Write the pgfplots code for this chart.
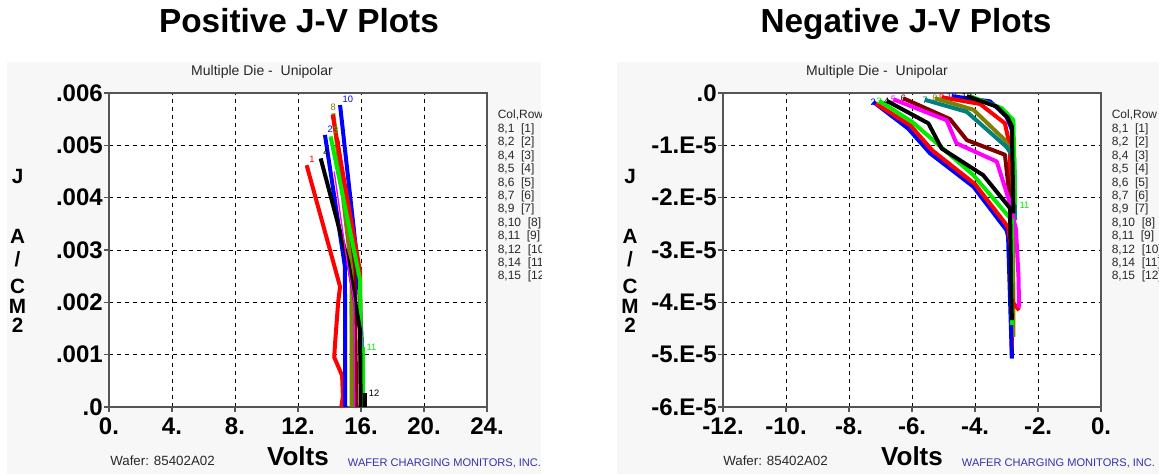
\documentclass[border=0pt]{standalone}
\usepackage{fontspec}
\setmainfont{Liberation Sans}
\usepackage{pgfplots}
\pgfplotsset{compat=1.18}

\definecolor{cRed}{RGB}{255,0,0}
\definecolor{cBlue}{RGB}{0,0,255}
\definecolor{cGreen}{RGB}{0,235,0}
\definecolor{cBlack}{RGB}{0,0,0}
\definecolor{cMag}{RGB}{255,0,255}
\definecolor{cBrown}{RGB}{128,0,0}
\definecolor{cTeal}{RGB}{0,128,128}
\definecolor{cOlive}{RGB}{128,128,0}
\definecolor{panel}{RGB}{247,247,247}
\definecolor{wcm}{RGB}{51,51,170}
\definecolor{axgray}{RGB}{85,85,85}
\definecolor{legtxt}{RGB}{40,40,40}

\newcommand{\lblfont}{\fontsize{7}{7}\selectfont}

\pgfplotsset{
  jv/.style={
    scale only axis, width=283.5pt, height=235.5pt,
    anchor=south west,
    axis background/.style={fill=white},
    axis line style={axgray, line width=0.9pt},
    grid=major,
    major grid style={black, line width=0.7pt, dash pattern=on 3pt off 3pt},
    tick pos=left, tick align=outside, major tick length=3.5pt,
    tick style={axgray, line width=0.8pt},
    tick label style={font=\fontsize{18}{18}\selectfont\bfseries},
    xticklabel style={inner sep=0pt, yshift=-4.5pt},
    yticklabel style={inner sep=0pt, xshift=-1pt},
    scaled ticks=false,
    every axis plot/.append style={line width=3pt, line join=round},
  }
}

\begin{document}
\begin{tikzpicture}
\path[use as bounding box] (0,0) rectangle (869.25pt,-355.5pt);
\begin{scope}[x=0.75pt,y=-0.75pt]
  \fill[panel] (7,62) rectangle (541,474);
  \fill[panel] (617,62) rectangle (1159,474);
\end{scope}

% ---------------- Positive J-V ----------------
\begin{axis}[jv, at={(81.75pt,-305.25pt)},
  xmin=0, xmax=24, ymin=0, ymax=0.006,
  xtick={0,4,8,12,16,20,24},
  xticklabels={0.,4.,8.,12.,16.,20.,24.},
  ytick={0,0.001,0.002,0.003,0.004,0.005,0.006},
  yticklabels={.0,.001,.002,.003,.004,.005,.006}]
\addplot[cRed] coordinates {(12.55,0.00462) (14.67,0.00230) (14.55,0.00200) (14.35,0.00120) (14.30,0.00095) (14.80,0.00060) (14.85,0.00020) (14.75,0.0)}
  node[pos=0, anchor=south west, inner sep=0.5pt, font=\lblfont, text=cRed]{1};
\addplot[cBrown] coordinates {(14.50,0.00510) (15.60,0.00260) (15.70,0.0)};
\addplot[cTeal] coordinates {(15.40,0.00200) (15.50,0.0)};
\addplot[cOlive] coordinates {(14.24,0.00561) (15.40,0.00260) (15.41,0.0)}
  node[pos=0, anchor=south, inner sep=0.5pt, font=\lblfont, text=cOlive]{8};
\addplot[cBlue] coordinates {(14.67,0.00577) (15.83,0.00262) (16.04,0.00128) (16.10,0.0)}
  node[pos=0, anchor=south west, inner sep=0.5pt, font=\lblfont, text=cBlue]{10};
\addplot[cRed] coordinates {(14.20,0.00558) (15.94,0.00259) (16.00,0.0)};
\addplot[cBlue] coordinates {(13.71,0.00520) (14.98,0.00268) (15.00,0.0)}
  node[pos=0, anchor=south west, inner sep=0.5pt, font=\lblfont, text=cBlue]{2};
\addplot[cGreen] coordinates {(14.07,0.00517) (15.94,0.00243) (16.04,0.0)}
  node[pos=0, anchor=south west, inner sep=0.5pt, font=\lblfont, text=cGreen]{3};
\addplot[cGreen] coordinates {(16.10,0.00115) (16.10,0.0)}
  node[pos=0, anchor=west, inner sep=1.5pt, font=\lblfont, text=cGreen]{11};
\addplot[cBlack] coordinates {(13.44,0.00475) (15.20,0.00275) (15.94,0.00147) (15.98,0.0)}
  node[pos=0, anchor=south west, inner sep=0.5pt, font=\lblfont, text=cBlack]{4};
\addplot[cBlack] coordinates {(16.25,0.00026) (16.25,0.0)}
  node[pos=0, anchor=west, inner sep=1.5pt, font=\lblfont, text=cBlack]{12};
\addplot[cMag, line width=1pt] coordinates {(14.30,0.00450) (15.10,0.00280) (15.55,0.00200) (15.60,0.0)};
\end{axis}

% ---------------- Negative J-V ----------------
\begin{axis}[jv, at={(542.25pt,-305.25pt)},
  xmin=-12, xmax=0, ymin=-6e-5, ymax=0,
  xtick={-12,-10,-8,-6,-4,-2,0},
  xticklabels={-12.,-10.,-8.,-6.,-4.,-2.,0.},
  ytick={-6e-5,-5e-5,-4e-5,-3e-5,-2e-5,-1e-5,0},
  yticklabels={-6.E-5,-5.E-5,-4.E-5,-3.E-5,-2.E-5,-1.E-5,.0}]
\addplot[cBlue] coordinates {(-4.74,-0.06e-5) (-3.52,-0.16e-5) (-3.00,-0.45e-5) (-2.83,-0.70e-5) (-2.83,-5.07e-5)}
  node[pos=0, anchor=center, inner sep=0.5pt, font=\lblfont, text=cBlue]{10};
\addplot[cRed] coordinates {(-5.06,-0.08e-5) (-3.84,-0.21e-5) (-3.05,-0.58e-5) (-2.89,-1.03e-5) (-2.83,-4.91e-5)}
  node[pos=0, anchor=center, inner sep=0.5pt, font=\lblfont, text=cRed]{9};
\addplot[cOlive] coordinates {(-5.27,-0.10e-5) (-4.05,-0.32e-5) (-3.05,-0.90e-5) (-2.80,-1.20e-5) (-2.78,-4.66e-5)}
  node[pos=0, anchor=center, inner sep=0.5pt, font=\lblfont, text=cOlive]{8};
\addplot[cBlue] coordinates {(-7.23,-0.17e-5) (-6.12,-0.68e-5) (-5.43,-1.15e-5) (-4.05,-1.79e-5) (-3.00,-2.62e-5) (-2.95,-2.74e-5) (-2.83,-5.07e-5)}
  node[pos=0, anchor=center, inner sep=0.5pt, font=\lblfont, text=cBlue]{2};
\addplot[cRed] coordinates {(-7.15,-0.20e-5) (-6.05,-0.62e-5) (-5.35,-1.10e-5) (-4.00,-1.74e-5) (-2.95,-2.56e-5) (-2.85,-3.00e-5) (-2.80,-4.00e-5) (-2.60,-4.15e-5)};
\addplot[cTeal] coordinates {(-5.59,-0.13e-5) (-4.26,-0.36e-5) (-3.00,-1.03e-5) (-2.75,-1.25e-5) (-2.73,-2.43e-5)}
  node[pos=0, anchor=center, inner sep=0.5pt, font=\lblfont, text=cTeal]{7};
\addplot[cBrown] coordinates {(-6.28,-0.10e-5) (-4.79,-0.50e-5) (-4.26,-0.90e-5) (-3.05,-1.18e-5) (-2.90,-2.00e-5)}
  node[pos=0, anchor=center, inner sep=0.5pt, font=\lblfont, text=cBrown]{6};
\addplot[cMag] coordinates {(-6.59,-0.12e-5) (-4.90,-0.52e-5) (-4.59,-0.96e-5) (-3.31,-1.31e-5) (-2.92,-2.05e-5) (-2.70,-2.60e-5) (-2.62,-3.50e-5) (-2.60,-4.10e-5)}
  node[pos=0, anchor=center, inner sep=0.5pt, font=\lblfont, text=cMag]{5};
\addplot[cGreen] coordinates {(-7.04,-0.15e-5) (-6.00,-0.55e-5) (-4.05,-1.57e-5) (-2.83,-2.43e-5) (-2.83,-4.43e-5)}
  node[pos=0, anchor=center, inner sep=0.5pt, font=\lblfont, text=cGreen]{3};
\addplot[cGreen] coordinates {(-4.16,-0.06e-5) (-3.15,-0.29e-5) (-2.78,-0.52e-5) (-2.73,-2.14e-5)}
  node[pos=1, anchor=west, inner sep=2pt, font=\lblfont, text=cGreen]{11};
\addplot[cBlack] coordinates {(-4.26,-0.06e-5) (-3.31,-0.26e-5) (-2.95,-0.48e-5) (-2.83,-0.64e-5) (-2.78,-2.30e-5)}
  node[pos=0, anchor=center, inner sep=0.5pt, font=\lblfont, text=cBlack]{12};
\addplot[cBlack] coordinates {(-6.80,-0.15e-5) (-5.48,-0.58e-5) (-5.06,-1.06e-5) (-3.74,-1.57e-5) (-2.89,-2.20e-5) (-2.83,-4.34e-5)}
  node[pos=0, anchor=center, inner sep=0.5pt, font=\lblfont, text=cBlack]{4};
\end{axis}

% ---------------- Texts ----------------
\begin{scope}[x=0.75pt,y=-0.75pt]
  % titles
  \node[anchor=base, inner sep=0pt, font=\fontsize{25}{25}\selectfont\bfseries] at (299,33) {Positive J-V Plots};
  \node[anchor=base, inner sep=0pt, font=\fontsize{25}{25}\selectfont\bfseries] at (906,33) {Negative J-V Plots};
  % subtitles
  \node[anchor=base, inner sep=0pt, font=\fontsize{10.5}{10.5}\selectfont, text=legtxt] at (262,76) {Multiple Die -\ \ Unipolar};
  \node[anchor=base, inner sep=0pt, font=\fontsize{10.5}{10.5}\selectfont, text=legtxt] at (877,76) {Multiple Die -\ \ Unipolar};
  % axis titles
  \node[anchor=base, inner sep=0pt, font=\fontsize{19.5}{19.5}\selectfont\bfseries] at (298,465) {Volts};
  \node[anchor=base, inner sep=0pt, font=\fontsize{19.5}{19.5}\selectfont\bfseries] at (912,465) {Volts};
  \foreach \cx in {17.5,630} {
    \node[anchor=base, inner sep=0pt, font=\fontsize{15.5}{15.5}\selectfont\bfseries] at (\cx,183) {J};
    \node[anchor=base, inner sep=0pt, font=\fontsize{15.5}{15.5}\selectfont\bfseries] at (\cx,243) {A};
    \node[anchor=base, inner sep=0pt, font=\fontsize{15.5}{15.5}\selectfont\bfseries] at (\cx,266) {/};
    \node[anchor=base, inner sep=0pt, font=\fontsize{15.5}{15.5}\selectfont\bfseries] at (\cx,293) {C};
    \node[anchor=base, inner sep=0pt, font=\fontsize{15.5}{15.5}\selectfont\bfseries] at (\cx,313) {M};
    \node[anchor=base, inner sep=0pt, font=\fontsize{15.5}{15.5}\selectfont\bfseries] at (\cx,332) {2};
  }
  % footers
  \node[anchor=base west, inner sep=0pt, font=\fontsize{10}{10}\selectfont, text=legtxt] at (110,465) {Wafer: 85402A02};
  \node[anchor=base west, inner sep=0pt, font=\fontsize{10}{10}\selectfont, text=legtxt] at (723,465) {Wafer: 85402A02};
  \node[anchor=base, inner sep=0pt, font=\fontsize{8.3}{8.3}\selectfont, text=wcm] at (444.5,466.5) {WAFER CHARGING MONITORS, INC.};
  \node[anchor=base, inner sep=0pt, font=\fontsize{8.3}{8.3}\selectfont, text=wcm] at (1058.5,466.5) {WAFER CHARGING MONITORS, INC.};
  % legends
  \begin{scope}
    \clip (490,100) rectangle (541,290);
    \foreach \t [count=\i from 0] in {{Col,Row},{8,1\ \ [1]},{8,2\ \ [2]},{8,4\ \ [3]},{8,5\ \ [4]},{8,6\ \ [5]},{8,7\ \ [6]},{8,9\ \ [7]},{8,10\ \ [8]},{8,11\ \ [9]},{8,12\ \ [10]},{8,14\ \ [11]},{8,15\ \ [12]}}
      \node[anchor=base west, inner sep=0pt, font=\fontsize{9}{9}\selectfont, text=legtxt] at (497.5,{119+13.4*\i}) {\t};
  \end{scope}
  \foreach \t [count=\i from 0] in {{Col,Row},{8,1\ \ [1]},{8,2\ \ [2]},{8,4\ \ [3]},{8,5\ \ [4]},{8,6\ \ [5]},{8,7\ \ [6]},{8,9\ \ [7]},{8,10\ \ [8]},{8,11\ \ [9]},{8,12\ \ [10]},{8,14\ \ [11]},{8,15\ \ [12]}}
    \node[anchor=base west, inner sep=0pt, font=\fontsize{9}{9}\selectfont, text=legtxt] at (1111.5,{119+13.4*\i}) {\t};
\end{scope}
\end{tikzpicture}
\end{document}
